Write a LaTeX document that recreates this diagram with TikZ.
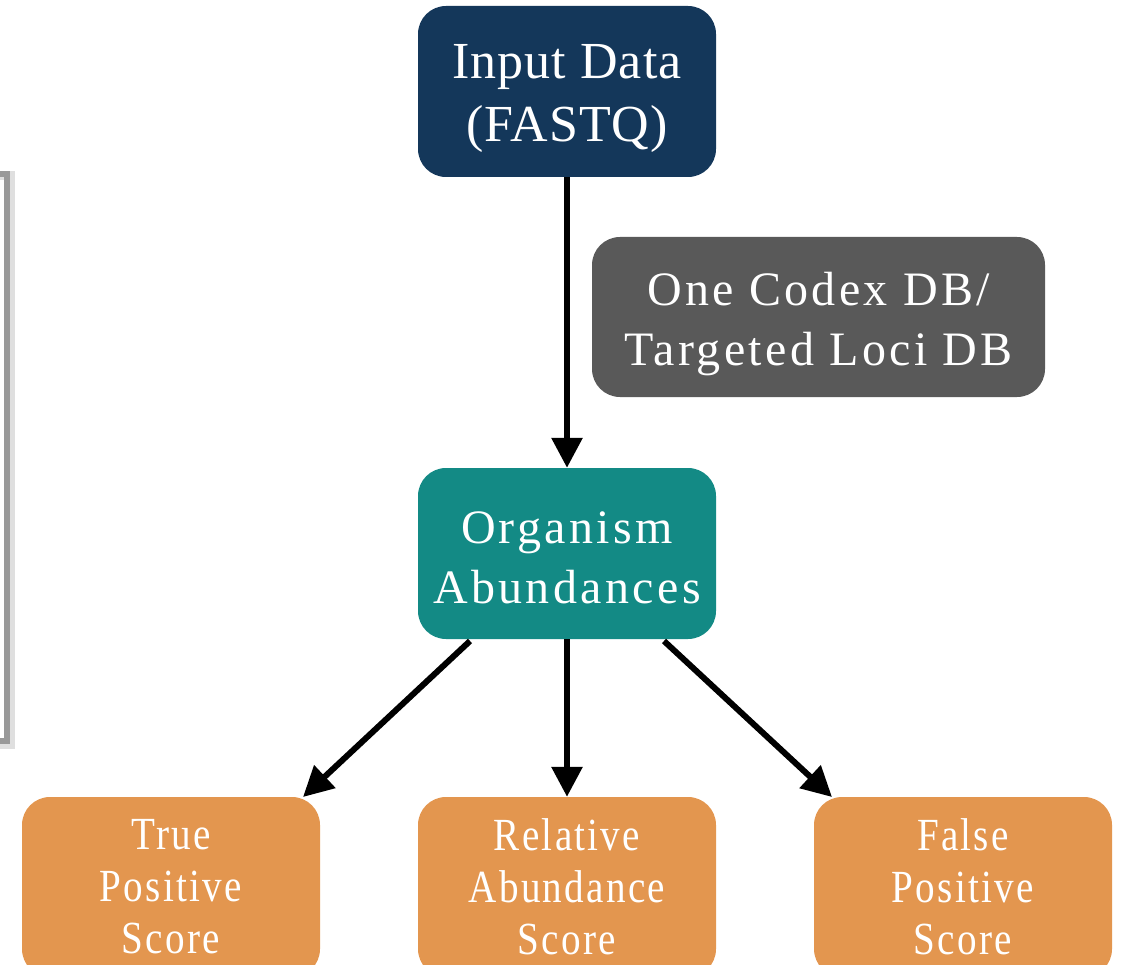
\documentclass[tikz,border=0pt]{standalone}
\usepackage{fontspec}
\setmainfont{Liberation Serif}
\usetikzlibrary{arrows.meta}
\definecolor{navy}{HTML}{14375A}
\definecolor{dbgray}{HTML}{595959}
\definecolor{teal2}{HTML}{138A85}
\definecolor{orng}{HTML}{E3964F}
\tikzset{
  box/.style={rounded corners=28pt, minimum width=298pt, align=center, text=white, inner sep=0pt},
  topfont/.style={font=\fontsize{52}{63}\selectfont\addfontfeature{LetterSpace=2}},
  spfont/.style={font=\fontsize{48}{60}\selectfont\addfontfeature{LetterSpace=7}},
  botfont/.style={font=\fontsize{46}{52}\selectfont\addfontfeature{FakeStretch=0.85,LetterSpace=5}},
  arr/.style={line width=6pt, -{Triangle[length=30pt,width=30pt]}},
}
\newcommand{\lowertext}[3]{\raisebox{-#1}[\height][\depth]{\parbox{#2}{\centering #3}}}
\begin{document}
\begin{tikzpicture}[x=1pt,y=-1pt]
\useasboundingbox (0,0) rectangle (1121,965);
% left gray bracket
\draw[line width=9pt, gray!25] (0,176) -- (10,176) -- (10,744) -- (0,744);
\draw[line width=6pt, gray!80] (0,174) -- (7,174) -- (7,741) -- (0,741);
% boxes
\node[box, fill=navy, minimum height=171pt, topfont] (input) at (567,91.5) {\lowertext{7pt}{290pt}{Input Data\\(FASTQ)}};
\node[box, fill=dbgray, minimum width=453pt, minimum height=160pt, spfont] (db) at (818.5,317) {\lowertext{7pt}{440pt}{One Codex DB/\\Targeted Loci DB}};
\node[box, fill=teal2, minimum height=171pt, spfont] (org) at (567,553.5) {\lowertext{4pt}{290pt}{Organism\\Abundances}};
\node[box, fill=orng, minimum height=180pt, botfont] (tp) at (171,887) {True\\Positive\\Score};
\node[box, fill=orng, minimum height=180pt, botfont] (ra) at (567,887) {Relative\\Abundance\\Score};
\node[box, fill=orng, minimum height=180pt, botfont] (fp) at (963,887) {False\\Positive\\Score};
% arrows
\coordinate (o1) at (470,641);
\coordinate (o3) at (664,641);
\coordinate (t1) at (303,797);
\coordinate (t3) at (832,797);
\draw[arr] (input.south) -- (org.north);
\draw[arr] (o1) -- (t1);
\draw[arr] (org.south) -- (ra.north);
\draw[arr] (o3) -- (t3);
\end{tikzpicture}
\end{document}
